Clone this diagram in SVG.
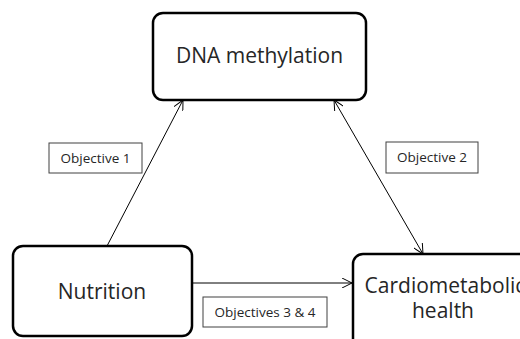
<svg xmlns="http://www.w3.org/2000/svg" width="520" height="339" viewBox="0 0 520 339">
<style>
.node{fill:#fff;stroke:#000;stroke-width:2.5}
.lbl{fill:#fff;stroke:#404040;stroke-width:1}
.t{font-family:"Open Sans","Noto Sans",sans-serif;fill:#262626;text-anchor:middle}
.big{font-size:21px}
.small{font-size:13.5px}
.c{stroke:#000;stroke-width:1;fill:none}
</style>
<defs>
<marker id="a" viewBox="0 0 10 10" refX="10" refY="5" markerWidth="10" markerHeight="10" markerUnits="userSpaceOnUse" orient="auto-start-reverse">
<path d="M0,0 L10,5 L0,10" fill="none" stroke="#000" stroke-width="1"/>
</marker>
</defs>
<g id="connectors">
<line class="c" x1="107" y1="246" x2="183" y2="100" marker-end="url(#a)"/>
<line class="c" x1="334" y1="100" x2="423" y2="254" marker-start="url(#a)" marker-end="url(#a)"/>
<line class="c" x1="192" y1="283" x2="352" y2="283" marker-end="url(#a)"/>
</g>
<g id="dna">
<rect class="node" x="153" y="13" width="213" height="87" rx="10"/>
<text class="t big" x="259.5" y="63">DNA methylation</text>
</g>
<g id="nutrition">
<rect class="node" x="13" y="246" width="179" height="90" rx="10"/>
<text class="t big" x="102" y="299">Nutrition</text>
</g>
<g id="cardio">
<rect class="node" x="353" y="254" width="180" height="100" rx="10"/>
<text class="t big" x="445" y="293">Cardiometabolic</text>
<text class="t big" x="443" y="318">health</text>
</g>
<g id="obj1">
<rect class="lbl" x="49" y="143" width="93" height="30"/>
<text class="t small" x="95.5" y="163">Objective 1</text>
</g>
<g id="obj2">
<rect class="lbl" x="386" y="142" width="92" height="31"/>
<text class="t small" x="432" y="162">Objective 2</text>
</g>
<g id="obj34">
<rect class="lbl" x="203" y="297" width="124" height="30"/>
<text class="t small" x="265" y="317">Objectives 3 &amp; 4</text>
</g>
</svg>
